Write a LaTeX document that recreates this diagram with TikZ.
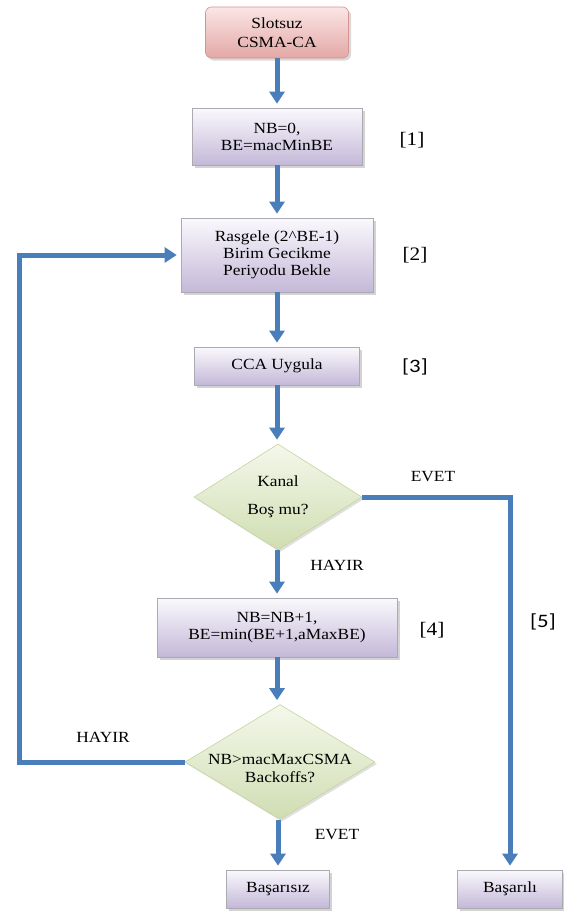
\documentclass[tikz,border=0pt]{standalone}
\usepackage{fontspec}
\setmainfont[FakeStretch=1.12]{Liberation Serif}
\newfontfamily\calib[FakeStretch=1.2]{Carlito}
\usetikzlibrary{arrows.meta,shapes.geometric,shadows}
\definecolor{arrblue}{RGB}{74,126,187}
\definecolor{boxtop}{RGB}{250,249,253}
\definecolor{boxbot}{RGB}{196,184,216}
\definecolor{boxline}{RGB}{170,170,176}
\definecolor{pinktop}{RGB}{250,230,229}
\definecolor{pinkbot}{RGB}{227,168,166}
\definecolor{pinkline}{RGB}{214,146,144}
\definecolor{greentop}{RGB}{244,248,235}
\definecolor{greenbot}{RGB}{208,221,178}
\definecolor{greenline}{RGB}{196,212,160}
\tikzset{
  txt/.style={font=\fontsize{15.5}{18}\selectfont, align=center, inner sep=0pt},
  procbox/.style={rectangle, draw=boxline, line width=0.6pt, top color=boxtop, bottom color=boxbot,
    drop shadow={shadow xshift=2.5pt, shadow yshift=-2.5pt, opacity=0.35, fill=gray},
    inner sep=2pt, font=\fontsize{15.5}{17}\selectfont, align=center},
  startbox/.style={rectangle, rounded corners=6pt, draw=pinkline, line width=0.6pt, top color=pinktop, bottom color=pinkbot,
    drop shadow={shadow xshift=2.5pt, shadow yshift=-2.5pt, opacity=0.3, fill=gray},
    inner sep=2pt, font=\fontsize{15.5}{19}\selectfont, align=center},
  decide/.style={diamond, draw=greenline, line width=0.6pt, top color=greentop, bottom color=greenbot,
    drop shadow={shadow xshift=2pt, shadow yshift=-2pt, opacity=0.25, fill=gray}, inner sep=0pt},
  arr/.style={draw=arrblue, line width=5pt, -{Triangle[width=15pt,length=12pt]}, shorten >=4pt},
  lbl/.style={font=\fontsize{15.5}{17}\selectfont, inner sep=0pt},
  tag/.style={font=\fontsize{19}{21}\selectfont, inner sep=0pt},
  ctag/.style={font=\calib\fontsize{19}{21}\selectfont, inner sep=0pt}
}
\begin{document}
\begin{tikzpicture}[x=1pt,y=-1pt]
\path[use as bounding box] (0,0) rectangle (564,913);

\node[startbox, minimum width=143pt, minimum height=51pt] (start) at (277,32.5) {Slotsuz\\CSMA-CA};
\node[procbox, minimum width=170pt, minimum height=57pt] (b1) at (277,136.5) {NB=0,\\BE=macMinBE};
\node[procbox, minimum width=192pt, minimum height=74pt] (b2) at (277,255) {Rasgele (2\textasciicircum BE-1)\\Birim Gecikme\\Periyodu Bekle};
\node[procbox, minimum width=165pt, minimum height=38pt] (b3) at (277,366) {CCA Uygula};
\node[decide, minimum width=168pt, minimum height=106pt] (d1) at (278,497) {};
\node[txt] (d1t) at (278,497) {Kanal\\[10pt]Boş mu?};
\node[procbox, minimum width=240pt, minimum height=59pt] (b4) at (277,627.5) {NB=NB+1,\\BE=min(BE+1,aMaxBE)};
\node[decide, minimum width=190pt, minimum height=115pt] (d2) at (280,762) {};
\node[txt] (d2t) at (280,768) {NB>macMaxCSMA\\Backoffs?};
\node[procbox, minimum width=103pt, minimum height=38pt] (fail) at (278,889) {Başarısız};
\node[procbox, minimum width=105pt, minimum height=38pt] (ok) at (510,889) {Başarılı};

\node[tag] (t1) at (412,140) {[1]};
\node[tag] (t2) at (415,255) {[2]};
\node[ctag] (t3) at (415,367) {[3]};
\node[tag] (t4) at (432,630) {[4]};
\node[ctag] (t5) at (543,622) {[5]};

\node[lbl] (evet1) at (433,477) {EVET};
\node[lbl] (hayir1) at (337,565) {HAYIR};
\node[lbl] (hayir2) at (103,737) {HAYIR};
\node[lbl] (evet2) at (337,835) {EVET};

\draw[arr] (start.south) -- (b1.north);
\draw[arr] (b1.south) -- (b2.north);
\draw[arr] (b2.south) -- (b3.north);
\draw[arr] (b3.south) -- (b3.south |- d1.north);
\draw[arr] (b4.north |- d1.south) -- (b4.north);
\draw[arr] (b4.south) -- (b4.south |- d2.north);
\draw[arr] (fail.north |- d2.south) -- (fail.north);
\draw[arr] (d1.east) -| (ok.north);
\coordinate (loopc) at (19,762);
\draw[arr] (d2.west) -- (loopc) |- (b2.west);
\end{tikzpicture}
\end{document}
